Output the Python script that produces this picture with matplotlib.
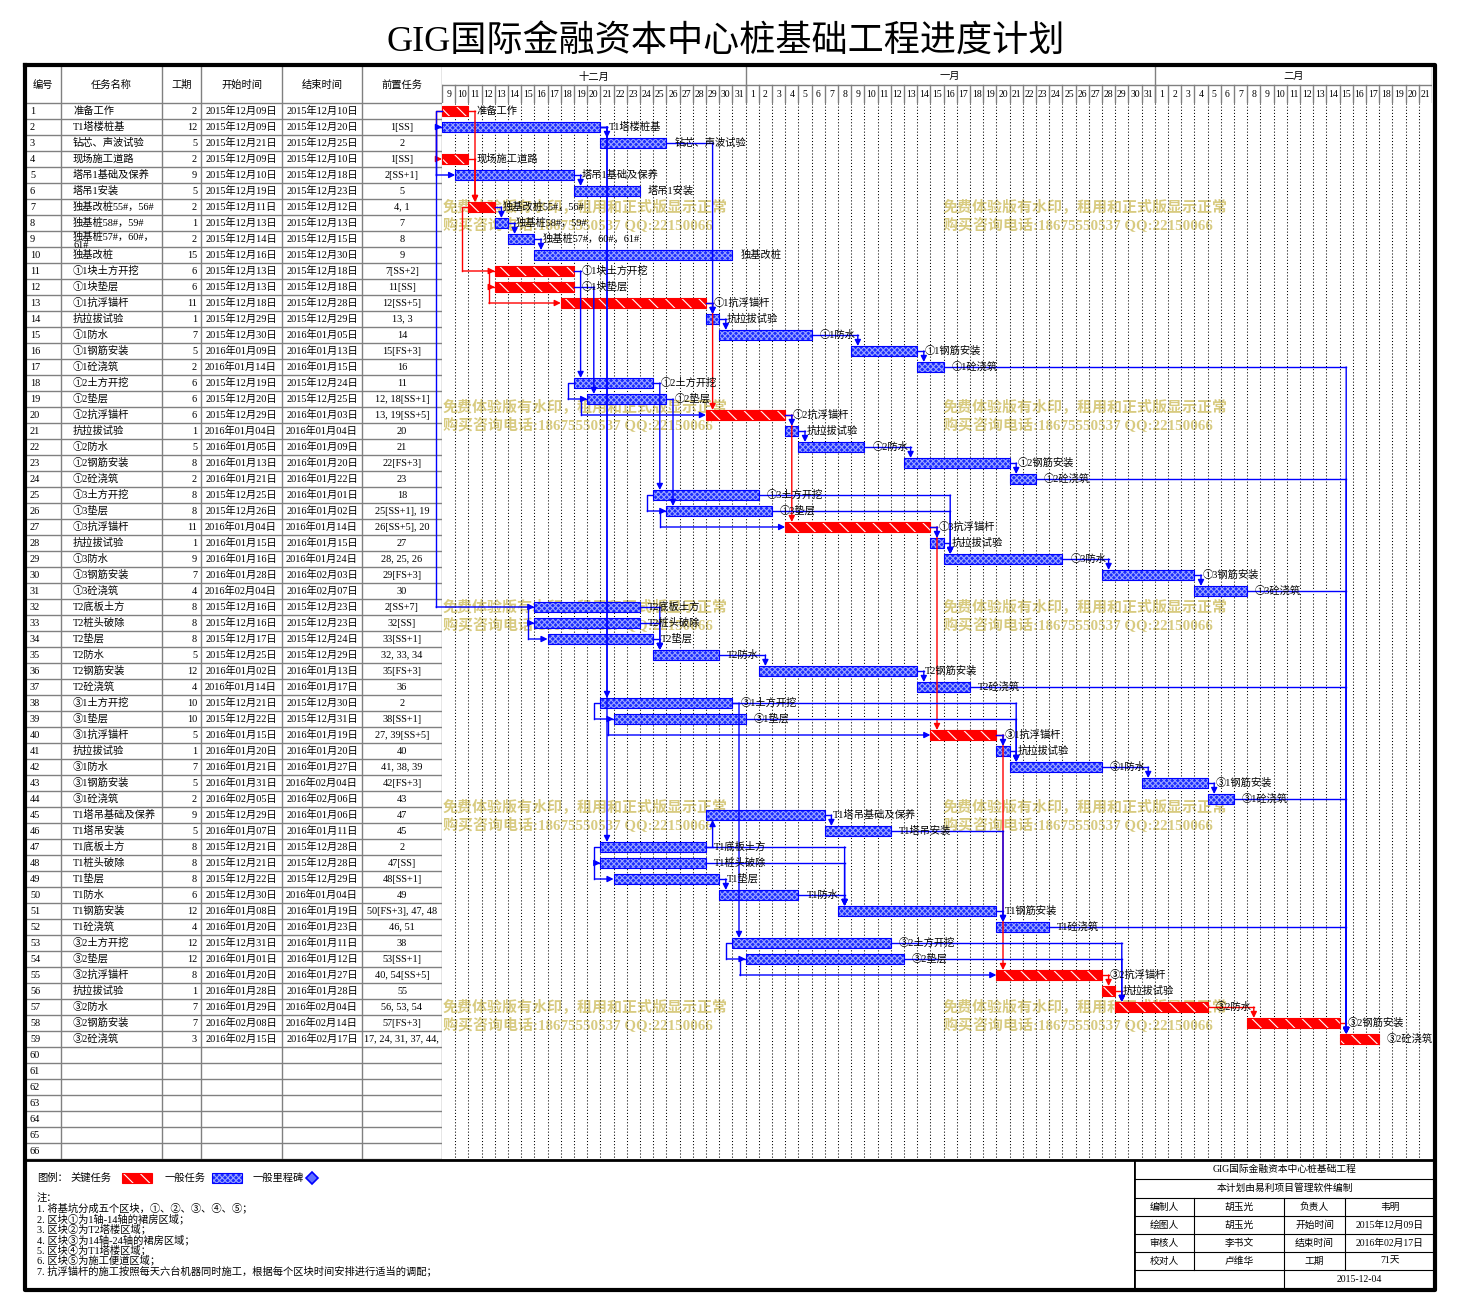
import re
import datetime as dt
import matplotlib
matplotlib.use("Agg")
import matplotlib.pyplot as plt
from matplotlib.patches import Rectangle

plt.rcParams['font.family'] = ['Liberation Serif', 'Noto Sans CJK SC', 'DejaVu Sans']
plt.rcParams['hatch.linewidth'] = 0.8

# ---------------- data ----------------
names = ['准备工作', 'T1塔楼桩基', '钻芯、声波试验', '现场施工道路', '塔吊1基础及保养', '塔吊1安装',
         '独基改桩55#，56#', '独基桩58#，59#', '独基桩57#，60#，61#', '独基改桩',
         '①1块土方开挖', '①1块垫层', '①1抗浮锚杆', '抗拉拔试验', '①1防水', '①1钢筋安装', '①1砼浇筑',
         '①2土方开挖', '①2垫层', '①2抗浮锚杆', '抗拉拔试验', '①2防水', '①2钢筋安装', '①2砼浇筑',
         '①3土方开挖', '①3垫层', '①3抗浮锚杆', '抗拉拔试验', '①3防水', '①3钢筋安装', '①3砼浇筑',
         'T2底板土方', 'T2桩头破除', 'T2垫层', 'T2防水', 'T2钢筋安装', 'T2砼浇筑',
         '③1土方开挖', '③1垫层', '③1抗浮锚杆', '抗拉拔试验', '③1防水', '③1钢筋安装', '③1砼浇筑',
         'T1塔吊基础及保养', 'T1塔吊安装', 'T1底板土方', 'T1桩头破除', 'T1垫层', 'T1防水', 'T1钢筋安装',
         'T1砼浇筑', '③2土方开挖', '③2垫层', '③2抗浮锚杆', '抗拉拔试验', '③2防水', '③2钢筋安装', '③2砼浇筑']
durations = [2, 12, 5, 2, 9, 5, 2, 1, 2, 15, 6, 6, 11, 1, 7, 5, 2, 6, 6, 6, 1, 5, 8, 2, 8, 8, 11, 1,
             9, 7, 4, 8, 8, 8, 5, 12, 4, 10, 10, 5, 1, 7, 5, 2, 9, 5, 8, 8, 8, 6, 12, 4, 12, 12, 8, 1,
             7, 7, 3]
starts = ['2015-12-09', '2015-12-09', '2015-12-21', '2015-12-09', '2015-12-10', '2015-12-19',
          '2015-12-11', '2015-12-13', '2015-12-14', '2015-12-16', '2015-12-13', '2015-12-13',
          '2015-12-18', '2015-12-29', '2015-12-30', '2016-01-09', '2016-01-14', '2015-12-19',
          '2015-12-20', '2015-12-29', '2016-01-04', '2016-01-05', '2016-01-13', '2016-01-21',
          '2015-12-25', '2015-12-26', '2016-01-04', '2016-01-15', '2016-01-16', '2016-01-28',
          '2016-02-04', '2015-12-16', '2015-12-16', '2015-12-17', '2015-12-25', '2016-01-02',
          '2016-01-14', '2015-12-21', '2015-12-22', '2016-01-15', '2016-01-20', '2016-01-21',
          '2016-01-31', '2016-02-05', '2015-12-29', '2016-01-07', '2015-12-21', '2015-12-21',
          '2015-12-22', '2015-12-30', '2016-01-08', '2016-01-20', '2015-12-31', '2016-01-01',
          '2016-01-20', '2016-01-28', '2016-01-29', '2016-02-08', '2016-02-15']
ends = ['2015-12-10', '2015-12-20', '2015-12-25', '2015-12-10', '2015-12-18', '2015-12-23',
        '2015-12-12', '2015-12-13', '2015-12-15', '2015-12-30', '2015-12-18', '2015-12-18',
        '2015-12-28', '2015-12-29', '2016-01-05', '2016-01-13', '2016-01-15', '2015-12-24',
        '2015-12-25', '2016-01-03', '2016-01-04', '2016-01-09', '2016-01-20', '2016-01-22',
        '2016-01-01', '2016-01-02', '2016-01-14', '2016-01-15', '2016-01-24', '2016-02-03',
        '2016-02-07', '2015-12-23', '2015-12-23', '2015-12-24', '2015-12-29', '2016-01-13',
        '2016-01-17', '2015-12-30', '2015-12-31', '2016-01-19', '2016-01-20', '2016-01-27',
        '2016-02-04', '2016-02-06', '2016-01-06', '2016-01-11', '2015-12-28', '2015-12-28',
        '2015-12-29', '2016-01-04', '2016-01-19', '2016-01-23', '2016-01-11', '2016-01-12',
        '2016-01-27', '2016-01-28', '2016-02-04', '2016-02-14', '2016-02-17']
predecessors = ['', '1[SS]', '2', '1[SS]', '2[SS+1]', '5', '4,1', '7', '8', '9', '7[SS+2]', '11[SS]',
                '12[SS+5]', '13,3', '14', '15[FS+3]', '16', '11', '12,18[SS+1]', '13,19[SS+5]', '20',
                '21', '22[FS+3]', '23', '18', '25[SS+1],19', '26[SS+5],20', '27', '28,25,26',
                '29[FS+3]', '30', '2[SS+7]', '32[SS]', '33[SS+1]', '32,33,34', '35[FS+3]', '36', '2',
                '38[SS+1]', '27,39[SS+5]', '40', '41,38,39', '42[FS+3]', '43', '47', '45', '2',
                '47[SS]', '48[SS+1]', '49', '50[FS+3],47,48', '46,51', '38', '53[SS+1]',
                '40,54[SS+5]', '55', '56,53,54', '57[FS+3]', '17,24,31,37,44,52,58']
critical = [1, 4, 7, 11, 12, 13, 20, 27, 40, 55, 56, 57, 58, 59]

month_names = {12: '十二月', 1: '一月', 2: '二月'}
table_headers = ['编号', '任务名称', '工期', '开始时间', '结束时间', '前置任务']
notes = ['注：',
         '1. 将基坑分成五个区块，①、②、③、④、⑤；',
         '2. 区块①为1轴-14轴的裙房区域；',
         '3. 区块②为T2塔楼区域；',
         '4. 区块③为14轴-24轴的裙房区域；',
         '5. 区块④为T1塔楼区域；',
         '6. 区块⑤为施工便道区域；',
         '7. 抗浮锚杆的施工按照每天六台机器同时施工，根据每个区块时间安排进行适当的调配；']
info_rows = [['GIG国际金融资本中心桩基础工程'],
             ['本计划由易利项目管理软件编制'],
             ['编制人', '胡玉光', '负责人', '韦明'],
             ['绘图人', '胡玉光', '开始时间', '2015年12月09日'],
             ['审核人', '李书文', '结束时间', '2016年02月17日'],
             ['校对人', '卢维华', '工期', '71天'],
             ['', '2015-12-04']]
title = 'GIG国际金融资本中心桩基础工程进度计划'
wm1 = '免费体验版有水印，租用和正式版显示正常'
wm2 = '购买咨询电话:18675550537 QQ:22150066'

# ---------------- derived ----------------
day0 = dt.date(2015, 12, 9)
n_days = 75
n_rows = 66
to_date = lambda s: dt.date(*map(int, s.split('-')))
s_idx = [(to_date(s) - day0).days for s in starts]
e_idx = [(to_date(e) - day0).days for e in ends]
days = [day0 + dt.timedelta(d) for d in range(n_days)]


def cn_date(s):
    d = to_date(s)
    return f'{d.year}年{d.month:02d}月{d.day:02d}日'


def parse_preds(txt):
    out = []
    for part in filter(None, txt.split(',')):
        m = re.match(r'(\d+)(?:\[(SS|FS)([+-]\d+)?\])?', part)
        out.append((int(m.group(1)), m.group(2) or 'FS'))
    return out


W, H = 1458, 1313
fig = plt.figure(figsize=(W / 100, H / 100), dpi=100)


def box(x0, y0, x1, y1):
    return [x0 / W, 1 - y1 / H, (x1 - x0) / W, (y1 - y0) / H]


def make_ax(rect, xlim, ylim, z=1):
    ax = fig.add_axes(rect, zorder=z)
    ax.set_xlim(*xlim)
    ax.set_ylim(*ylim)
    ax.set_facecolor('none')
    ax.axis('off')
    return ax


GRAY = '#808080'
RED = '#ff0000'
BLUE = '#0000ff'
BLUE_FILL, BLUE_HATCH = '#1a2cff', '#9aa4ff'
FS = 7.4

fig.text(726 / W, 1 - 42 / H, title, fontsize=26, ha='center', va='center')

# ---------------- table ----------------
col_edges = [0, 36, 137, 176, 257, 337, 417]
axt = make_ax(box(25, 67, 442, 1159), (0, 417), (n_rows, -2.25))
for i in range(n_rows + 1):
    axt.plot([0, 417], [i, i], color=GRAY, lw=1)
for x in col_edges:
    axt.plot([x, x], [-2.25, n_rows], color=GRAY, lw=1)
for k, h in enumerate(table_headers):
    axt.text((col_edges[k] + col_edges[k + 1]) / 2, -1.15, h, ha='center', va='center', fontsize=FS)
for r in range(n_rows):
    axt.text(5, r + 0.5, str(r + 1), va='center', fontsize=FS)
for i, nm in enumerate(names):
    y = i + 0.5
    shown = nm if len(nm) <= 12 else nm[:11] + '\n' + nm[11:]
    axt.text(48, y + (0.12 if '\n' in shown else 0), shown, va='center', fontsize=FS, linespacing=0.8)
    axt.text(172, y, str(durations[i]), ha='right', va='center', fontsize=FS)
    axt.text(216, y, cn_date(starts[i]), ha='center', va='center', fontsize=FS)
    axt.text(297, y, cn_date(ends[i]), ha='center', va='center', fontsize=FS)
    ptxt = ', '.join(predecessors[i].split(','))
    if len(ptxt) > 20:
        ptxt = ptxt[:19]
    axt.text(377, y, ptxt, ha='center', va='center', fontsize=FS)

# ---------------- gantt header ----------------
axh = make_ax(box(442, 67, 1432, 103), (0, n_days), (36, 0))
axh.plot([0, n_days], [18, 18], color=GRAY, lw=1)
month_starts = [0] + [d for d in range(1, n_days) if days[d].day == 1] + [n_days]
for a, b in zip(month_starts[:-1], month_starts[1:]):
    axh.plot([b, b], [0, 36], color=GRAY, lw=1)
    axh.text((a + b) / 2, 9.5, month_names[days[a].month], ha='center', va='center', fontsize=FS)
for d in range(n_days):
    axh.plot([d, d], [18, 36], color=GRAY, lw=1)
    axh.text(d + 0.5, 27.5, str(days[d].day), ha='center', va='center', fontsize=7)

# ---------------- gantt body ----------------
axg = make_ax(box(442, 103, 1432, 1159), (0, n_days), (n_rows, 0), z=2)
for d in range(1, n_days):
    axg.plot([d, d], [0, n_rows], color='black', lw=0.75, ls=(0, (1, 2)), zorder=1)

BH = 0.31
crit_set = set(critical)


def draw_link(p, s, kind, color):
    yp, ys = p - 0.5, s - 0.5
    ap = dict(arrowstyle='-|>', color=color, lw=1, shrinkA=0, shrinkB=0, mutation_scale=9)
    if kind == 'SS':
        xv = s_idx[p - 1] - 0.45
        axg.plot([s_idx[p - 1], xv, xv], [yp, yp, ys], color=color, lw=1, clip_on=False, zorder=3)
        axg.annotate('', xy=(s_idx[s - 1], ys), xytext=(xv, ys), arrowprops=ap,
                     annotation_clip=False, zorder=3)
    else:
        x0 = e_idx[p - 1] + 1
        xv = s_idx[s - 1] + 0.5
        ytip = ys - BH if s > p else ys + BH
        axg.plot([x0, xv], [yp, yp], color=color, lw=1, clip_on=False, zorder=3)
        axg.annotate('', xy=(xv, ytip), xytext=(xv, yp), arrowprops=ap,
                     annotation_clip=False, zorder=3)


links = []
for j, txt in enumerate(predecessors, start=1):
    for p, kind in parse_preds(txt):
        red = p in crit_set and j in crit_set
        links.append((red, p, j, kind))
for red, p, j, kind in sorted(links, key=lambda t: not t[0]):
    draw_link(p, j, kind, RED if red else BLUE)

for i in range(len(names)):
    row = i + 1
    x0, x1 = s_idx[i], e_idx[i] + 1
    y = row - 0.5
    if row in crit_set:
        fc, hc, hatch, ec = RED, 'white', '\\\\', RED
    else:
        fc, hc, hatch, ec = BLUE_FILL, BLUE_HATCH, 'xxxxxx', BLUE
    axg.add_patch(Rectangle((x0, y - BH), x1 - x0, 2 * BH, facecolor=fc, edgecolor=hc,
                            hatch=hatch, lw=0, zorder=2))
    axg.add_patch(Rectangle((x0, y - BH), x1 - x0, 2 * BH, fill=False, edgecolor=ec,
                            lw=0.8, zorder=2.5))
    axg.text(x1 + 0.6, y, names[i], va='center', fontsize=FS, zorder=4, clip_on=False)

# watermarks (behind everything)
for wx in (443, 943):
    for k in range(5):
        yc = 207 + 200 * k
        fig.text(wx / W, 1 - yc / H, wm1, fontsize=10.8, fontweight='bold', color='#d8cb80',
                 va='center', zorder=0)
        fig.text(wx / W, 1 - (yc + 18) / H, wm2, fontsize=10.8, fontweight='bold', color='#d8cb80',
                 va='center', zorder=0)

# ---------------- frame / legend / notes ----------------
axf = make_ax(box(0, 0, W, H), (0, W), (H, 0), z=5)
axf.plot([25, 1435, 1435, 25, 25], [65, 65, 1290, 1290, 65], color='black', lw=3)
axf.plot([25, 1435], [1160, 1160], color='black', lw=2)
axf.text(37, 1178, '图例：', va='center', fontsize=FS)
axf.text(70, 1178, '关键任务', va='center', fontsize=FS)
axf.add_patch(Rectangle((122, 1173), 30, 10, facecolor=RED, edgecolor='white', hatch='\\\\', lw=0))
axf.add_patch(Rectangle((122, 1173), 30, 10, fill=False, edgecolor=RED, lw=0.8))
axf.text(165, 1178, '一般任务', va='center', fontsize=FS)
axf.add_patch(Rectangle((212, 1173), 30, 10, facecolor=BLUE_FILL, edgecolor=BLUE_HATCH,
                        hatch='xxxxxx', lw=0))
axf.add_patch(Rectangle((212, 1173), 30, 10, fill=False, edgecolor=BLUE, lw=0.8))
axf.text(253, 1178, '一般里程碑', va='center', fontsize=FS)
axf.plot([312], [1178], marker='D', ms=6, mfc='#6070ff', mec=BLUE, mew=1.2)
for k, line in enumerate(notes):
    axf.text(37, 1198 + 10.4 * k, line, va='center', fontsize=FS)

# info box
axi = make_ax(box(1134, 1160, 1435, 1290), (0, 301), (130, 0), z=6)
row_edges = [0, 19, 38, 56, 74, 92, 110, 130]
ic = [0, 60, 150, 211, 301]
axi.plot([0, 0], [0, 130], color='black', lw=2)
for y in row_edges[1:-1]:
    axi.plot([0, 301], [y, y], color='black', lw=0.8)
for r in range(2, 6):
    for x in ic[1:-1]:
        axi.plot([x, x], [row_edges[r], row_edges[r + 1]], color='black', lw=0.8)
axi.plot([150, 150], [row_edges[6], row_edges[7]], color='black', lw=0.8)
for r, cells in enumerate(info_rows):
    yc = (row_edges[r] + row_edges[r + 1]) / 2
    if len(cells) == 1:
        axi.text(150.5, yc, cells[0], ha='center', va='center', fontsize=7)
    elif len(cells) == 2:
        axi.text(75, yc, cells[0], ha='center', va='center', fontsize=7)
        axi.text(225, yc, cells[1], ha='center', va='center', fontsize=7)
    else:
        for c, t in enumerate(cells):
            axi.text((ic[c] + ic[c + 1]) / 2, yc, t, ha='center', va='center', fontsize=7)

fig.savefig('out.png', dpi=100)
